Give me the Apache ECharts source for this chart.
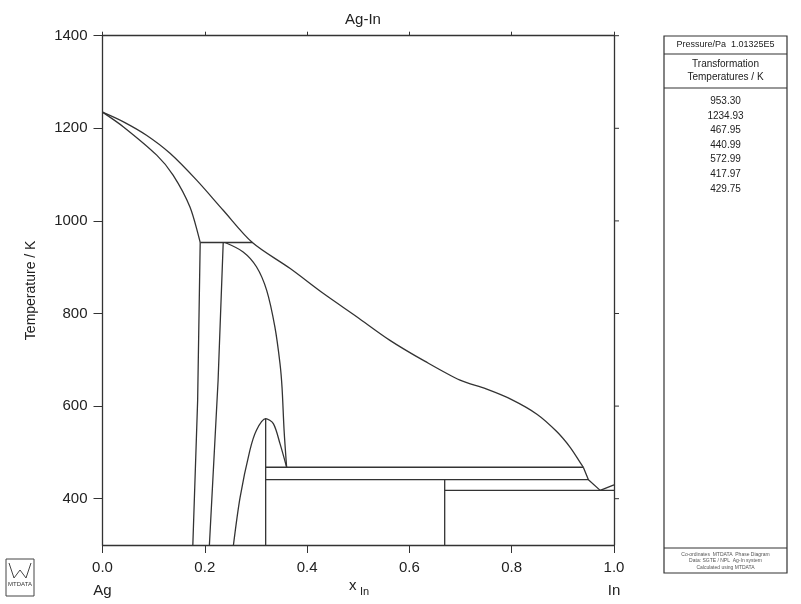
<!DOCTYPE html>
<html><head><meta charset="utf-8">
<script src="https://cdn.jsdelivr.net/npm/echarts@6/dist/echarts.min.js"></script>
<style>html,body{margin:0;padding:0;background:#fff}#c{width:801px;height:604px}</style>
</head><body><div id="c"></div>
<script>
// ---- data (x_In, T/K) ----
const xTicks = [0, 0.2, 0.4, 0.6, 0.8, 1.0];
const yTicks = [400, 600, 800, 1000, 1200, 1400];
const transformTemps = ['953.30', '1234.93', '467.95', '440.99', '572.99', '417.97', '429.75'];
const liquidusUpper = [[0,1234.93],[0.041,1214],[0.086,1185],[0.132,1146],[0.184,1088],[0.236,1023],[0.293,953.3],[0.367,897],[0.432,843],[0.497,793],[0.562,742],[0.63,697],[0.699,656],[0.75,637],[0.80,614],[0.85,582],[0.888,545],[0.915,510],[0.934,478],[0.940,467.95]];
const liquidusLower = [[0.940,467.95],[0.950,440.99],[0.973,417.97],[1.0,429.75]];
const solidusAg = [[0,1234.93],[0.041,1203],[0.106,1142],[0.138,1099],[0.171,1030],[0.191,953.3]];
const solvusAlpha = [[0.191,953.3],[0.186,612],[0.1766,300]];
const zetaLeft = [[0.236,953.3],[0.226,656],[0.209,300]];
const zetaRight = [[0.2395,953.3],[0.275,933],[0.301,901],[0.321,850],[0.337,771],[0.347,692],[0.351,640],[0.355,548],[0.360,467.95]];
const gammaDome = [[0.256,300],[0.269,403],[0.288,504],[0.301,548],[0.319,572.99],[0.334,562],[0.347,519],[0.360,467.95]];
const peritectic953 = [[0.191,953.3],[0.293,953.3]];
const gammaLine = [[0.319,572.99],[0.319,300]];
const line468 = [[0.319,467.95],[0.940,467.95]];
const line441 = [[0.319,440.99],[0.950,440.99]];
const agIn2Line = [[0.669,440.99],[0.669,300]];
const eutectic418 = [[0.669,417.97],[1.0,417.97]];

const LC = '#333';
function ser(data, smooth){
  return {type:'line', data:data, showSymbol:false, smooth:smooth?0.3:false, silent:true,
    lineStyle:{color:LC, width:1.3}, animation:false};
}
const chart = echarts.init(document.getElementById('c'), null, {renderer:'canvas'});
const font = 'Liberation Sans, Arial, sans-serif';
const tickStyle = {color:'#222', fontSize:15, fontFamily:font};
const AL = {show:true, onZero:false, lineStyle:{color:'#333', width:1.3}};
const graphics = [
    {type:'text', left:349, top:578, style:{text:'x', fontSize:15, fill:'#222', fontFamily:font}},
    {type:'text', left:360, top:586, style:{text:'In', fontSize:11, fill:'#222', fontFamily:font}},
    // side box
    {type:'rect', shape:{x:664, y:36, width:123, height:537}, style:{fill:'none', stroke:'#333', lineWidth:1.2}},
    {type:'line', shape:{x1:664, y1:54, x2:787, y2:54}, style:{stroke:'#333', lineWidth:1.2}},
    {type:'line', shape:{x1:664, y1:88, x2:787, y2:88}, style:{stroke:'#333', lineWidth:1.2}},
    {type:'line', shape:{x1:664, y1:548, x2:787, y2:548}, style:{stroke:'#333', lineWidth:1}},
    {type:'text', x:725.5, y:45, style:{text:'Pressure/Pa  1.01325E5', fontSize:9, fill:'#222', align:'center', verticalAlign:'middle', fontFamily:font}},
    {type:'text', x:725.5, y:70.5, style:{text:'Transformation\nTemperatures / K', fontSize:10, lineHeight:12.5, fill:'#222', align:'center', verticalAlign:'middle', fontFamily:font}},
    {type:'text', x:725.5, y:94, style:{text:transformTemps.join('\n'), fontSize:10, lineHeight:14.6, fill:'#222', align:'center', verticalAlign:'top', fontFamily:font}},
    {type:'text', x:725.5, y:551, style:{text:'Co-ordinates  MTDATA  Phase Diagram\nData: SGTE / NPL  Ag-In system\nCalculated using MTDATA', fontSize:5, lineHeight:6.5, fill:'#555', align:'center', verticalAlign:'top', fontFamily:font}},
    // logo
    {type:'rect', shape:{x:6, y:559, width:28, height:37}, style:{fill:'none', stroke:'#444', lineWidth:1}},
    {type:'polyline', shape:{points:[[9,563],[14,578],[20,570],[26,578],[31,563]]}, style:{fill:'none', stroke:'#444', lineWidth:1}},
    {type:'text', x:20, y:584, style:{text:'MTDATA', fontSize:6, fill:'#333', align:'center', verticalAlign:'middle', fontFamily:font}}
];
chart.setOption({
  animation:false,
  backgroundColor:'#fff',
  title:{text:'Ag-In', left:358, top:7, textAlign:'center', textStyle:{fontSize:15, fontWeight:'normal', color:'#222', fontFamily:font}},
  grid:{left:102.5, right:187, top:35.7, bottom:59},
  xAxis:[
    {type:'value', min:0, max:1, interval:0.2, position:'bottom',
     axisLine:AL,
     axisTick:{length:8, lineStyle:{color:'#333'}},
     splitLine:{show:false},
     axisLabel:{margin:11, lineHeight:23, ...tickStyle,
       formatter:function(v){ const s=v.toFixed(1); if(v===0) return s+'\nAg'; if(v===1) return s+'\nIn'; return s+'\n '; }}},
    {type:'value', min:0, max:1, interval:0.2, position:'top',
     axisLine:AL,
     axisTick:{length:4, lineStyle:{color:'#333'}},
     axisLabel:{show:false}, splitLine:{show:false}}
  ],
  yAxis:[
    {type:'value', min:300, max:1400, position:'left',
     name:'Temperature / K', nameLocation:'middle', nameGap:64,
     nameTextStyle:{fontSize:14, color:'#222', fontFamily:font},
     axisLine:AL,
     axisTick:{show:true, length:9, customValues:yTicks, lineStyle:{color:'#333'}},
     axisLabel:{customValues:yTicks, margin:15, ...tickStyle, formatter:function(v){return String(v);}},
     splitLine:{show:false}},
    {type:'value', min:300, max:1400, position:'right',
     axisLine:AL,
     axisTick:{show:false}, axisLabel:{show:false}, splitLine:{show:false}}
  ],
  series:[
    ser(liquidusUpper,true), ser(liquidusLower,false), ser(solidusAg,true), ser(solvusAlpha,false),
    ser(zetaLeft,false), ser(zetaRight,true), ser(gammaDome,true), ser(peritectic953,false),
    ser(gammaLine,false), ser(line468,false), ser(line441,false), ser(agIn2Line,false), ser(eutectic418,false)
  ],
  graphic:graphics
});
// right-axis tick marks, positioned through the axis scale
const rightTicks = yTicks.map(function(t){
  const p = chart.convertToPixel({yAxisIndex:0, xAxisIndex:0}, [1, t]);
  return {type:'line', shape:{x1:p[0], y1:p[1], x2:p[0]+5, y2:p[1]}, style:{stroke:'#333', lineWidth:1}};
});
chart.setOption({graphic: graphics.concat(rightTicks)});
</script></body></html>
